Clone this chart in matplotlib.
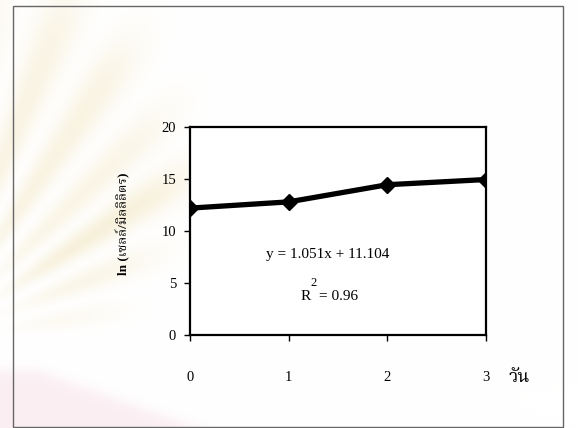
import numpy as np
import matplotlib.pyplot as plt
import matplotlib.font_manager as fm
from matplotlib.ft2font import FT2Font
from matplotlib.patches import Rectangle

# ln(cells/ml) over culture days
days = [0, 1, 2, 3]
ln_cells = [12.2, 12.8, 14.45, 14.95]
x_ticks = [0, 1, 2, 3]
y_ticks = [0, 5, 10, 15, 20]
fit_text = 'y = 1.051x + 11.104'
r2_text = '0.96'


def thai_font():
    # pick an installed font that can draw Thai (ว = U+0E27)
    found = []
    for f in fm.fontManager.ttflist:
        try:
            if 0x0E27 in FT2Font(f.fname).get_charmap():
                found.append(f.name)
        except Exception:
            pass
    for pref in ['Noto Serif Thai', 'Noto Sans Thai', 'Noto Sans Thai Looped', 'Noto Sans']:
        if pref in found:
            return pref
    return found[0] if found else 'DejaVu Sans'


thai = thai_font()
serif = 'Liberation Serif'

W, H = 578, 428
fig = plt.figure(figsize=(W / 100, H / 100), dpi=100)

# soft watermark rays behind the chart, drawn as an RGB image in pixel coordinates
yy, xx = np.mgrid[0:H, 0:W].astype(float)
cx, cy = -70.0, 340.0
theta = np.degrees(np.arctan2(cy - yy, xx - cx))
r = np.hypot(xx - cx, yy - cy)
ray = np.zeros((H, W))
for ang, length, strength in [(80, 360, 0.22), (68, 370, 0.28), (56, 350, 0.3),
                              (44, 320, 0.25), (33, 300, 0.38), (21, 230, 0.25),
                              (9, 170, 0.2)]:
    prof = np.exp(-((theta - ang) / 4.0) ** 2)
    fade = 1 / (1 + np.exp((r - length) / 20)) / (1 + np.exp((110 - r) / 20))
    ray = np.maximum(ray, strength * prof * fade)
edge = 370 + 0.36 * np.clip(xx - 37, 0, None)
pink = 0.3 / (1 + np.exp((edge - yy) / 4))
img = np.ones((H, W, 3))
beige = np.array([0.92, 0.85, 0.62])
rose = np.array([0.95, 0.78, 0.85])
img = img * (1 - ray[..., None]) + beige * ray[..., None]
img = img * (1 - pink[..., None]) + rose * pink[..., None]

bg = fig.add_axes([0, 0, 1, 1], zorder=-5)
bg.imshow(img, extent=(0, W, H, 0), aspect='auto', interpolation='bilinear')
bg.set_xlim(0, W)
bg.set_ylim(H, 0)
bg.axis('off')
# outer frame
bg.add_patch(Rectangle((13, 6), 550, 421, fill=False, ec='#666666', lw=1.0))

ax = fig.add_axes([190 / W, 1 - 335 / H, 296 / W, 208 / H])
ax.plot(days, ln_cells, color='black', lw=3.8, marker='D', ms=8, solid_joinstyle='round')
ax.set_xlim(0, 3)
ax.set_ylim(0, 20)
ax.set_xticks(x_ticks)
ax.set_yticks(y_ticks)
for s in ax.spines.values():
    s.set_linewidth(1.6)
ax.tick_params(axis='both', direction='out', length=4, width=1, labelsize=10.5)
ax.tick_params(axis='x', pad=22)
ax.tick_params(axis='y', pad=6)
for lab in ax.get_xticklabels() + ax.get_yticklabels():
    lab.set_family(serif)

ax.text(0.466, 0.385, fit_text, transform=ax.transAxes, ha='center', va='center',
        family=serif, fontsize=11)
ax.text(0.473, 0.183, 'R  = ' + r2_text, transform=ax.transAxes, ha='center', va='center',
        family=serif, fontsize=11)
ax.text(0.416, 0.25, '2', transform=ax.transAxes, ha='center', va='center',
        family=serif, fontsize=9)

fig.text(123 / W, 1 - 224 / H, 'ln (เซลล์/มิลลิลิตร)', rotation=90, ha='center',
         va='center', family=[serif, thai], fontsize=9.5, fontweight='bold')
fig.text(509 / W, 1 - 377 / H, 'วัน', ha='left', va='center', family=[thai],
         fontsize=13)

fig.savefig('out.png', dpi=100)
